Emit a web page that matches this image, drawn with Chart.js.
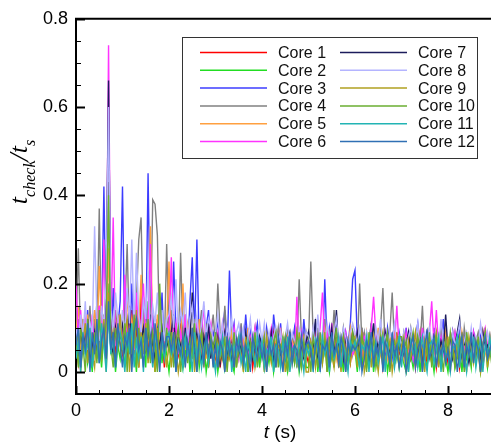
<!DOCTYPE html>
<html lang="en">
<head>
<meta charset="UTF-8" />
<title>Check time per core</title>
<script src="https://cdn.jsdelivr.net/npm/chart.js"></script>
<style>
  html, body { margin: 0; padding: 0; background: #fff; }
  #wrap { width: 491px; height: 447px; }
</style>
</head>
<body>
<div id="wrap"><canvas id="chart" width="491" height="447"></canvas></div>
<script>
// time samples (s), one row per second
const times = [
  0,0.05,0.1,0.15,0.2,0.25,0.3,0.35,0.4,0.45,0.5,0.55,0.6,0.65,0.7,0.75,0.8,0.85,0.9,0.95,
  1,1.05,1.1,1.15,1.2,1.25,1.3,1.35,1.4,1.45,1.5,1.55,1.6,1.65,1.7,1.75,1.8,1.85,1.9,1.95,
  2,2.05,2.1,2.15,2.2,2.25,2.3,2.35,2.4,2.45,2.5,2.55,2.6,2.65,2.7,2.75,2.8,2.85,2.9,2.95,
  3,3.05,3.1,3.15,3.2,3.25,3.3,3.35,3.4,3.45,3.5,3.55,3.6,3.65,3.7,3.75,3.8,3.85,3.9,3.95,
  4,4.05,4.1,4.15,4.2,4.25,4.3,4.35,4.4,4.45,4.5,4.55,4.6,4.65,4.7,4.75,4.8,4.85,4.9,4.95,
  5,5.05,5.1,5.15,5.2,5.25,5.3,5.35,5.4,5.45,5.5,5.55,5.6,5.65,5.7,5.75,5.8,5.85,5.9,5.95,
  6,6.05,6.1,6.15,6.2,6.25,6.3,6.35,6.4,6.45,6.5,6.55,6.6,6.65,6.7,6.75,6.8,6.85,6.9,6.95,
  7,7.05,7.1,7.15,7.2,7.25,7.3,7.35,7.4,7.45,7.5,7.55,7.6,7.65,7.7,7.75,7.8,7.85,7.9,7.95,
  8,8.05,8.1,8.15,8.2,8.25,8.3,8.35,8.4,8.45,8.5,8.55,8.6,8.65,8.7,8.75,8.8,8.85,8.9,8.95,
  9];

// t_check / t_s for each core
const core1 = [
  .06,.02,.09,.04,.12,.03,.08,.01,.11,.05,.15,.04,.09,.02,.16,.06,.10,.03,.13,.07,
  .04,.12,.02,.08,.14,.05,.10,.01,.18,.06,.09,.03,.13,.07,.02,.11,.05,.09,.01,.08,
  .06,.10,.02,.07,.04,.11,.01,.09,.05,.12,.03,.07,.02,.10,.06,.04,.08,.01,.07,.05,
  .03,.08,.01,.06,.09,.02,.05,.08,.01,.07,.04,.09,.02,.06,.03,.08,.01,.05,.07,.02,
  .06,.01,.08,.03,.05,.09,.02,.07,.04,.01,.06,.08,.02,.05,.09,.03,.06,.01,.08,.04,
  .02,.07,.05,.10,.01,.06,.03,.08,.05,.02,.09,.04,.07,.01,.06,.08,.03,.05,.02,.07,
  .07,.03,.06,.01,.09,.04,.05,.08,.02,.06,.04,.07,.01,.05,.08,.03,.06,.02,.09,.04,
  .05,.08,.02,.06,.04,.07,.01,.05,.09,.03,.06,.02,.08,.04,.07,.01,.05,.03,.08,.06,
  .02,.06,.09,.03,.07,.01,.05,.08,.04,.06,.02,.09,.03,.05,.07,.01,.06,.04,.08,.02,
  .05];
const core2 = [
  .04,.08,.01,.06,.10,.02,.05,.00,.12,.03,.07,.01,.09,.04,.20,.05,.08,.00,.06,.03,
  .09,.01,.05,.14,.02,.06,.00,.10,.04,.07,.01,.16,.03,.08,.00,.05,.11,.02,.07,.04,
  .00,.06,.11,.02,.05,.08,.01,.04,.09,.00,.06,.03,.08,.01,.05,.07,.00,.04,.08,.02,
  .06,.00,.04,.08,.01,.05,.07,.02,.00,.06,.03,.08,.01,.05,.00,.07,.04,.02,.06,.01,
  .08,.01,.05,.02,.07,.00,.04,.06,.01,.08,.03,.00,.05,.07,.02,.06,.00,.04,.08,.01,
  .01,.06,.03,.08,.00,.05,.02,.07,.04,.00,.06,.01,.08,.03,.05,.00,.07,.02,.06,.04,
  .05,.00,.08,.02,.06,.01,.04,.07,.00,.05,.03,.08,.01,.06,.00,.04,.07,.02,.05,.01,
  .06,.02,.00,.07,.04,.01,.05,.08,.00,.06,.03,.01,.07,.04,.00,.05,.08,.02,.06,.03,
  .00,.05,.08,.01,.04,.06,.00,.07,.03,.05,.01,.08,.02,.06,.00,.04,.07,.01,.05,.03,
  .04];
const core3 = [
  .05,.12,.03,.09,.06,.14,.02,.10,.07,.16,.04,.11,.42,.08,.13,.05,.19,.07,.10,.16,
  .42,.06,.12,.04,.20,.08,.14,.05,.11,.17,.06,.45,.09,.13,.05,.12,.07,.18,.04,.10,
  .13,.06,.25,.09,.05,.14,.07,.11,.04,.16,.26,.08,.30,.06,.12,.05,.10,.14,.04,.09,
  .07,.12,.05,.09,.14,.04,.23,.08,.11,.03,.07,.10,.05,.13,.06,.09,.03,.08,.11,.05,
  .07,.04,.10,.06,.03,.13,.08,.05,.11,.04,.07,.09,.03,.06,.10,.05,.08,.04,.12,.06,
  .09,.04,.07,.11,.05,.08,.03,.21,.06,.10,.04,.08,.12,.05,.07,.03,.09,.06,.11,.21,
  .23,.07,.05,.10,.04,.08,.06,.11,.03,.07,.09,.05,.08,.04,.10,.06,.03,.08,.05,.09,
  .06,.04,.10,.05,.07,.03,.08,.11,.05,.06,.04,.09,.07,.03,.10,.05,.08,.06,.12,.04,
  .07,.05,.09,.03,.06,.10,.04,.08,.05,.07,.03,.09,.06,.04,.08,.05,.10,.03,.07,.05,
  .06];
const core4 = [
  .10,.28,.06,.12,.04,.09,.15,.05,.11,.07,.37,.08,.13,.05,.43,.10,.06,.14,.08,.12,
  .05,.13,.29,.07,.11,.04,.16,.30,.35,.09,.06,.14,.08,.39,.38,.31,.07,.12,.05,.29,
  .09,.14,.06,.11,.04,.27,.08,.13,.05,.10,.07,.12,.04,.09,.14,.06,.11,.05,.08,.13,
  .06,.20,.09,.05,.15,.07,.04,.10,.06,.08,.03,.11,.05,.07,.09,.04,.06,.10,.05,.08,
  .04,.07,.09,.05,.03,.08,.06,.10,.04,.07,.05,.09,.03,.06,.08,.05,.21,.07,.04,.09,
  .06,.25,.08,.05,.10,.04,.07,.12,.05,.09,.06,.14,.04,.08,.06,.10,.05,.07,.09,.04,
  .08,.05,.20,.06,.09,.04,.07,.11,.05,.08,.06,.10,.19,.05,.07,.09,.18,.06,.04,.08,
  .05,.09,.06,.04,.10,.07,.05,.08,.06,.15,.04,.07,.09,.05,.06,.08,.04,.10,.06,.07,
  .04,.08,.06,.09,.05,.07,.03,.10,.06,.05,.08,.04,.07,.09,.05,.06,.08,.04,.07,.05,
  .08];
const core5 = [
  .09,.15,.05,.11,.07,.13,.04,.10,.14,.06,.24,.09,.12,.05,.28,.08,.11,.06,.13,.07,
  .10,.05,.18,.08,.12,.06,.15,.09,.22,.05,.11,.07,.33,.09,.06,.13,.08,.12,.05,.10,
  .25,.06,.10,.04,.09,.07,.20,.05,.11,.08,.04,.09,.06,.12,.05,.08,.03,.10,.06,.07,
  .04,.08,.06,.10,.03,.07,.05,.09,.04,.06,.08,.03,.07,.05,.10,.04,.06,.09,.03,.07,
  .05,.09,.03,.06,.08,.04,.07,.05,.10,.03,.06,.08,.04,.07,.05,.09,.03,.06,.08,.04,
  .07,.04,.09,.05,.06,.03,.08,.10,.04,.07,.05,.09,.03,.06,.08,.04,.07,.05,.10,.06,
  .04,.08,.05,.07,.03,.09,.06,.04,.08,.05,.10,.04,.07,.06,.03,.08,.05,.09,.04,.07,
  .06,.03,.08,.05,.07,.04,.09,.06,.03,.08,.05,.07,.10,.04,.06,.08,.03,.07,.05,.09,
  .05,.07,.04,.08,.06,.03,.09,.05,.07,.04,.08,.06,.03,.07,.05,.09,.04,.06,.08,.05,
  .06];
const core6 = [
  .20,.08,.14,.05,.12,.09,.06,.13,.04,.10,.15,.07,.30,.11,.74,.09,.35,.06,.12,.08,
  .07,.22,.06,.13,.09,.05,.18,.08,.11,.20,.06,.12,.29,.07,.10,.05,.14,.08,.06,.11,
  .09,.26,.07,.11,.04,.09,.06,.13,.05,.10,.08,.04,.12,.06,.09,.15,.05,.08,.11,.04,
  .06,.09,.04,.11,.07,.05,.08,.04,.10,.06,.03,.09,.05,.07,.04,.08,.06,.10,.03,.07,
  .05,.08,.04,.07,.10,.05,.06,.03,.09,.05,.07,.04,.08,.06,.03,.17,.05,.09,.04,.07,
  .07,.04,.09,.05,.06,.10,.18,.06,.09,.05,.11,.04,.07,.08,.03,.06,.09,.05,.07,.04,
  .05,.09,.06,.04,.08,.07,.05,.10,.17,.08,.04,.07,.06,.09,.05,.03,.08,.06,.15,.05,
  .06,.04,.09,.05,.07,.03,.08,.06,.04,.10,.05,.07,.09,.16,.06,.14,.05,.08,.04,.07,
  .04,.07,.05,.09,.06,.04,.08,.05,.07,.03,.06,.09,.05,.07,.04,.08,.10,.06,.05,.07,
  .09];
const core7 = [
  .07,.03,.10,.05,.08,.12,.02,.06,.09,.04,.11,.06,.08,.20,.66,.07,.04,.10,.06,.09,
  .11,.05,.08,.15,.03,.09,.12,.04,.07,.10,.05,.08,.13,.06,.03,.09,.05,.11,.04,.07,
  .05,.09,.13,.04,.08,.06,.03,.10,.05,.07,.18,.04,.09,.06,.02,.08,.05,.11,.03,.07,
  .05,.08,.02,.06,.09,.04,.07,.03,.05,.08,.04,.06,.02,.09,.05,.07,.03,.06,.04,.08,
  .06,.03,.07,.05,.09,.02,.06,.08,.04,.05,.03,.07,.09,.04,.06,.02,.08,.05,.03,.07,
  .09,.04,.06,.12,.03,.07,.05,.08,.02,.06,.10,.04,.14,.05,.07,.03,.08,.06,.04,.09,
  .06,.09,.03,.07,.05,.08,.02,.06,.11,.04,.07,.05,.03,.09,.06,.04,.08,.02,.07,.05,
  .07,.04,.06,.09,.03,.05,.08,.04,.07,.02,.06,.09,.05,.03,.08,.06,.04,.07,.05,.13,
  .05,.07,.03,.06,.09,.12,.04,.07,.05,.02,.06,.08,.04,.07,.03,.09,.05,.06,.04,.07,
  .04];
const core8 = [
  .10,.06,.13,.08,.16,.05,.11,.09,.33,.12,.07,.15,.10,.21,.60,.14,.09,.18,.12,.08,
  .14,.08,.19,.11,.30,.10,.27,.13,.09,.16,.12,.23,.08,.15,.11,.18,.09,.14,.07,.12,
  .13,.17,.10,.21,.08,.14,.11,.18,.07,.12,.15,.09,.13,.06,.11,.16,.08,.12,.10,.07,
  .09,.13,.07,.11,.06,.10,.08,.12,.05,.09,.11,.07,.10,.05,.08,.12,.06,.09,.07,.11,
  .07,.11,.06,.09,.05,.08,.10,.06,.09,.05,.08,.11,.06,.09,.07,.05,.10,.08,.06,.09,
  .08,.06,.10,.05,.13,.07,.09,.06,.11,.08,.05,.09,.12,.07,.06,.10,.08,.05,.09,.11,
  .09,.06,.10,.07,.05,.09,.06,.08,.05,.10,.07,.12,.06,.08,.05,.09,.07,.11,.06,.08,
  .06,.09,.05,.08,.10,.06,.07,.11,.05,.08,.09,.06,.10,.07,.05,.09,.06,.12,.07,.05,
  .07,.05,.09,.06,.08,.11,.05,.07,.09,.06,.10,.05,.08,.06,.11,.07,.05,.09,.06,.08,
  .10];
const core9 = [
  .05,.09,.00,.07,.11,.02,.08,.04,.01,.10,.06,.03,.12,.00,.18,.05,.09,.02,.07,.13,
  .05,.09,.12,.00,.08,.06,.14,.01,.09,.04,.11,.02,.07,.05,.00,.10,.03,.08,.06,.01,
  .07,.01,.09,.05,.00,.04,.08,.02,.06,.05,.10,.00,.07,.03,.09,.01,.06,.04,.08,.02,
  .01,.07,.03,.06,.00,.08,.03,.05,.07,.01,.06,.04,.00,.08,.02,.05,.07,.01,.04,.06,
  .06,.00,.08,.05,.02,.07,.01,.06,.05,.08,.00,.04,.07,.02,.06,.01,.09,.03,.05,.00,
  .00,.07,.05,.01,.08,.06,.02,.09,.00,.06,.04,.01,.07,.05,.00,.08,.03,.06,.02,.07,
  .08,.01,.06,.09,.00,.03,.07,.01,.08,.04,.00,.06,.09,.02,.05,.07,.00,.04,.08,.01,
  .06,.08,.00,.07,.03,.06,.09,.01,.07,.05,.00,.08,.04,.02,.06,.09,.01,.05,.07,.03,
  .08,.00,.06,.03,.07,.01,.09,.04,.00,.08,.05,.02,.07,.04,.00,.06,.09,.01,.05,.03,
  .05];
const core10 = [
  .08,.01,.10,.06,.00,.12,.05,.03,.09,.02,.14,.04,.07,.11,.40,.06,.01,.10,.05,.08,
  .07,.11,.00,.09,.04,.13,.01,.10,.03,.08,.05,.12,.02,.09,.06,.00,.20,.07,.04,.10,
  .05,.09,.01,.07,.10,.00,.06,.08,.02,.07,.04,.11,.00,.06,.09,.03,.07,.01,.08,.05,
  .09,.01,.06,.03,.08,.00,.07,.04,.09,.01,.05,.08,.02,.06,.00,.07,.04,.09,.01,.06,
  .05,.08,.00,.06,.03,.07,.09,.01,.06,.05,.08,.00,.07,.04,.02,.09,.05,.01,.07,.03,
  .07,.00,.08,.05,.01,.09,.04,.07,.00,.08,.03,.06,.10,.01,.05,.08,.00,.06,.04,.09,
  .05,.07,.01,.08,.06,.00,.09,.05,.07,.01,.04,.08,.02,.06,.09,.00,.05,.07,.03,.08,
  .08,.05,.07,.00,.06,.09,.02,.08,.05,.00,.07,.04,.09,.01,.06,.08,.03,.05,.00,.07,
  .04,.09,.05,.01,.03,.08,.06,.00,.09,.05,.02,.07,.04,.08,.00,.06,.09,.03,.05,.01,
  .07];
const core11 = [
  .03,.07,.00,.09,.04,.06,.10,.01,.05,.08,.02,.11,.06,.00,.13,.04,.08,.01,.07,.09,
  .06,.00,.09,.05,.11,.01,.07,.03,.08,.00,.10,.04,.06,.01,.09,.05,.02,.08,.03,.07,
  .09,.04,.06,.00,.07,.05,.01,.08,.04,.06,.00,.09,.03,.07,.01,.05,.08,.02,.06,.04,
  .00,.06,.04,.08,.01,.05,.07,.00,.06,.04,.08,.02,.05,.00,.07,.03,.06,.01,.08,.04,
  .07,.01,.05,.04,.08,.00,.06,.05,.01,.07,.03,.08,.00,.05,.06,.02,.07,.04,.00,.06,
  .04,.06,.00,.07,.05,.01,.08,.04,.06,.00,.07,.03,.05,.08,.01,.06,.04,.00,.07,.05,
  .07,.04,.01,.06,.05,.08,.00,.06,.04,.07,.02,.05,.08,.00,.06,.03,.07,.01,.05,.08,
  .01,.06,.05,.00,.07,.04,.06,.01,.05,.08,.03,.00,.06,.07,.02,.05,.08,.00,.06,.04,
  .04,.00,.06,.05,.08,.01,.07,.04,.00,.06,.03,.08,.01,.05,.07,.00,.06,.04,.08,.02,
  .05];
const core12 = [
  .06,.10,.01,.08,.05,.11,.00,.09,.04,.12,.02,.07,.10,.03,.16,.05,.09,.01,.11,.06,
  .01,.08,.06,.10,.00,.09,.12,.05,.07,.01,.10,.04,.08,.02,.11,.06,.00,.09,.05,.08,
  .08,.05,.09,.00,.06,.04,.08,.01,.07,.03,.10,.05,.00,.08,.06,.02,.09,.04,.07,.01,
  .06,.01,.07,.05,.00,.08,.04,.06,.01,.07,.05,.09,.02,.06,.04,.00,.08,.05,.03,.07,
  .03,.06,.00,.07,.04,.06,.01,.08,.05,.00,.07,.04,.09,.02,.06,.05,.01,.08,.04,.06,
  .07,.05,.01,.06,.08,.00,.06,.05,.07,.01,.09,.04,.06,.02,.08,.05,.00,.07,.04,.06,
  .05,.06,.08,.00,.03,.07,.05,.09,.01,.06,.04,.08,.00,.07,.05,.02,.09,.04,.06,.01,
  .04,.07,.00,.03,.06,.08,.01,.05,.07,.00,.06,.09,.03,.05,.08,.01,.06,.04,.07,.02,
  .05,.01,.07,.06,.00,.05,.08,.01,.06,.04,.09,.02,.07,.05,.00,.06,.08,.03,.05,.07,
  .06];

const coreSeries = [core1, core2, core3, core4, core5, core6, core7, core8, core9, core10, core11, core12];
const coreNames = ['Core 1','Core 2','Core 3','Core 4','Core 5','Core 6',
                   'Core 7','Core 8','Core 9','Core 10','Core 11','Core 12'];
const coreColors = ['#ff0000','#22dd22','#3c3cff','#808080','#ffa040','#ff33ff',
                    '#1c1c5c','#b4b4ff','#b0a020','#6aae30','#22b4b4','#3070b4'];

const xTicks = [0, 2, 4, 6, 8];
const xTickLabels = ['0', '2', '4', '6', '8'];
const yTicks = [0, 0.2, 0.4, 0.6, 0.8];
const yTickLabels = ['0', '0.2', '0.4', '0.6', '0.8'];

const FONT = "'Liberation Sans', Arial, sans-serif";
const SERIF = "'Liberation Serif', 'Times New Roman', serif";

// inward major/minor ticks, top frame line, legend box and axis titles
const decorations = {
  id: 'decorations',
  afterDatasetsDraw(chart) {
    const { ctx, chartArea: a, scales: { x, y } } = chart;
    ctx.save();
    ctx.strokeStyle = '#000';

    // y ticks
    for (let v = -0.05; v <= 0.8001; v += 0.05) {
      const py = Math.round(y.getPixelForValue(v)) + 0.5;
      const major = yTicks.some(t => Math.abs(t - v) < 1e-6);
      ctx.lineWidth = major ? 2 : 1;
      ctx.beginPath();
      ctx.moveTo(a.left, py);
      ctx.lineTo(a.left + (major ? 9 : 5), py);
      ctx.stroke();
    }
    // x ticks
    for (let v = 0; v <= 9; v += 0.5) {
      const px = Math.round(x.getPixelForValue(v)) + 0.5;
      if (px > a.right) break;
      const major = xTicks.includes(v);
      ctx.lineWidth = major ? 2 : 1;
      ctx.beginPath();
      ctx.moveTo(px, a.bottom);
      ctx.lineTo(px, a.bottom - (major ? 8 : 4));
      ctx.stroke();
    }
    // top frame
    ctx.lineWidth = 2;
    ctx.beginPath();
    ctx.moveTo(a.left - 1, a.top);
    ctx.lineTo(chart.width, a.top);
    ctx.stroke();

    // legend
    ctx.fillStyle = '#fff';
    ctx.fillRect(182.5, 37.5, 295, 121);
    ctx.strokeStyle = '#333';
    ctx.lineWidth = 1;
    ctx.strokeRect(182.5, 37.5, 295, 121);
    ctx.font = '16px ' + FONT;
    ctx.textBaseline = 'middle';
    ctx.textAlign = 'left';
    chart.data.datasets.forEach((ds, i) => {
      const col = Math.floor(i / 6), row = i % 6;
      const ly = 52.5 + row * 17.8;
      const lx = col === 0 ? 200 : 340;
      ctx.strokeStyle = ds.borderColor;
      ctx.lineWidth = 1.5;
      ctx.beginPath();
      ctx.moveTo(lx, ly);
      ctx.lineTo(lx + 67, ly);
      ctx.stroke();
      ctx.fillStyle = '#111';
      ctx.fillText(ds.label, lx + 78, ly + 1);
    });

    // x title: t (s)
    ctx.fillStyle = '#000';
    ctx.textBaseline = 'alphabetic';
    ctx.font = 'italic 19px ' + FONT;
    const tW = ctx.measureText('t').width;
    ctx.font = '19px ' + FONT;
    const sW = ctx.measureText(' (s)').width;
    const xs = 280 - (tW + sW) / 2;
    ctx.font = 'italic 19px ' + FONT;
    ctx.fillText('t', xs, 438);
    ctx.font = '19px ' + FONT;
    ctx.fillText(' (s)', xs + tW, 438);

    // y title: t_check / t_s
    const parts = [
      { s: 't', f: 'italic 26px ' + SERIF, dy: 0 },
      { s: 'check', f: 'italic 16px ' + SERIF, dy: 8 },
      { s: '/', f: 'italic 26px ' + SERIF, dy: 0 },
      { s: 't', f: 'italic 26px ' + SERIF, dy: 0 },
      { s: 's', f: 'italic 16px ' + SERIF, dy: 8 }
    ];
    let total = 0;
    parts.forEach(p => { ctx.font = p.f; p.w = ctx.measureText(p.s).width; total += p.w; });
    ctx.translate(27, 172);
    ctx.rotate(-Math.PI / 2);
    let cx = -total / 2;
    parts.forEach(p => {
      ctx.font = p.f;
      ctx.fillText(p.s, cx, p.dy);
      cx += p.w;
    });
    ctx.restore();
  }
};

new Chart(document.getElementById('chart'), {
  type: 'line',
  data: {
    datasets: coreSeries.map((vals, k) => ({
      label: coreNames[k],
      data: vals.map((v, i) => ({ x: times[i], y: v })),
      borderColor: coreColors[k],
      backgroundColor: coreColors[k],
      borderWidth: 1.4,
      pointRadius: 0,
      tension: 0,
      fill: false,
      order: coreSeries.length - 1 - k
    }))
  },
  options: {
    responsive: false,
    animation: false,
    devicePixelRatio: 1,
    layout: { padding: { top: 13, right: 0, left: 0, bottom: 0 } },
    plugins: { legend: { display: false }, tooltip: { enabled: false } },
    scales: {
      x: {
        type: 'linear',
        min: 0,
        max: 8.925,
        afterBuildTicks: s => { s.ticks = xTicks.map(v => ({ value: v })); },
        afterFit: s => { s.height = 53; },
        ticks: {
          callback: (v, i) => xTickLabels[i],
          font: { family: FONT, size: 18 },
          color: '#000',
          padding: 6,
          maxRotation: 0,
          autoSkip: false
        },
        grid: { display: false, drawTicks: false },
        border: { display: true, color: '#000', width: 2 }
      },
      y: {
        min: -0.05,
        max: 0.8,
        afterBuildTicks: s => { s.ticks = yTicks.map(v => ({ value: v })); },
        afterFit: s => { s.width = 76; },
        ticks: {
          callback: (v, i) => yTickLabels[i],
          font: { family: FONT, size: 18 },
          color: '#000',
          padding: 8,
          autoSkip: false
        },
        grid: { display: false, drawTicks: false },
        border: { display: true, color: '#000', width: 2 }
      }
    }
  },
  plugins: [decorations]
});
</script>
</body>
</html>
